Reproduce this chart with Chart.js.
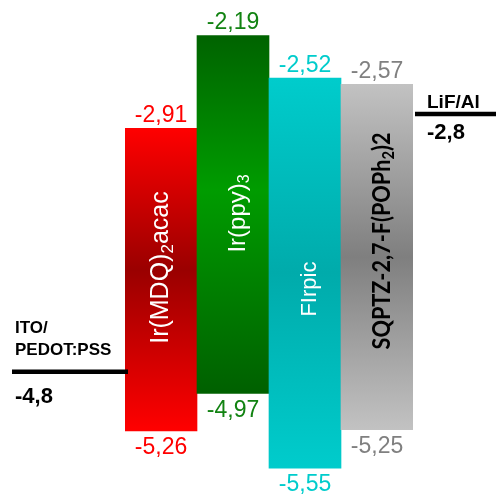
<!DOCTYPE html>
<html><head><meta charset="utf-8">
<script src="https://cdn.jsdelivr.net/npm/chart.js@4/dist/chart.umd.min.js"></script>
<style>html,body{margin:0;padding:0;background:#fff;overflow:hidden}canvas{display:block}</style>
</head><body>
<canvas id="c" width="496" height="499" style="width:496px;height:499px"></canvas>
<script>
// ---- data ----
const materials = ['Ir(MDQ)2acac', 'Ir(ppy)3', 'FIrpic', 'SQPTZ-2,7-F(POPh2)2'];
const lumo = [-2.91, -2.19, -2.52, -2.57];
const homo = [-5.26, -4.97, -5.55, -5.25];
const electrodeNames = ['ITO/PEDOT:PSS', 'LiF/Al'];
const electrodeLevels = [-4.8, -2.8];
// display markup ("_" = next char subscript)
const nameMarkup = ['Ir(MDQ)_2acac', 'Ir(ppy)_3', 'FIrpic', 'SQPTZ-2,7-F(POPh_2)2'];

// ---- styles ----
const barStyles = [
  {stops:[[0,'#ff0000'],[0.47,'#9a0000'],[1,'#ff0000']], text:'#ff0000', nameColor:'#ffffff', size:25, weight:'', family:'"Liberation Sans", Arial, sans-serif', dx:0, dy:-12},
  {stops:[[0,'#006300'],[0.43,'#009c00'],[1,'#006000']], text:'#128312', nameColor:'#ffffff', size:24, weight:'', family:'"Liberation Sans", Arial, sans-serif', dx:5, dy:-1},
  {stops:[[0,'#00cccc'],[0.5,'#00abab'],[1,'#00cccc']], text:'#00cccc', nameColor:'#ffffff', size:22, weight:'', family:'"Liberation Sans", Arial, sans-serif', dx:5, dy:16},
  {stops:[[0,'#c2c2c2'],[0.5,'#7f7f7f'],[1,'#c2c2c2']], text:'#808080', nameColor:'#000000', size:25, weight:'bold ', family:'Lato, "Open Sans", sans-serif', dx:5, dy:-16, len:217}
];

function fmt(v, d){ return v.toFixed(d).replace('.', ','); }

function parseMarkup(m){
  const segs=[];
  for(let i=0;i<m.length;i++){
    if(m[i]==='_'){ segs.push({t:m[i+1], sub:true}); i++; }
    else if(segs.length && !segs[segs.length-1].sub){ segs[segs.length-1].t+=m[i]; }
    else segs.push({t:m[i], sub:false});
  }
  return segs;
}

const gradCache = {};
function barColor(ctx){
  const chart = ctx.chart, i = ctx.dataIndex, st = barStyles[i];
  if(i===undefined || !chart.chartArea || !chart.scales.y) return st ? st.stops[0][1] : '#ccc';
  const y = chart.scales.y;
  const top = y.getPixelForValue(lumo[i]), bot = y.getPixelForValue(homo[i]);
  const g = chart.ctx.createLinearGradient(0, top, 0, bot);
  st.stops.forEach(s => g.addColorStop(s[0], s[1]));
  return g;
}

const annot = {
  id:'annot',
  afterDatasetsDraw(chart){
    const ctx = chart.ctx, ca = chart.chartArea, ys = chart.scales.y;
    const meta = chart.getDatasetMeta(0);
    ctx.save();
    meta.data.forEach((el, i) => {
      const st = barStyles[i];
      const top = Math.min(el.y, el.base), bot = Math.max(el.y, el.base);
      // values
      ctx.font = '23px "Liberation Sans", Arial, sans-serif';
      ctx.fillStyle = st.text; ctx.textAlign = 'center'; ctx.textBaseline = 'alphabetic';
      ctx.fillText(fmt(lumo[i],2), el.x, top - 6);
      ctx.fillText(fmt(homo[i],2), el.x, bot + 23);
      // rotated name
      const segs = parseMarkup(nameMarkup[i]);
      const mainF = st.weight + st.size + 'px ' + st.family;
      const subF = st.weight + Math.round(st.size*0.66) + 'px ' + st.family;
      let total = 0;
      segs.forEach(s => { ctx.font = s.sub ? subF : mainF; s.w = ctx.measureText(s.t).width; total += s.w; });
      ctx.save();
      ctx.translate(el.x + st.dx, (top + bot)/2 + st.dy);
      ctx.rotate(-Math.PI/2);
      let k = st.len ? st.len/total : 1;
      ctx.scale(k, 1);
      ctx.fillStyle = st.nameColor; ctx.textAlign = 'left'; ctx.textBaseline = 'middle';
      let x = -total/2;
      segs.forEach(s => {
        ctx.font = s.sub ? subF : mainF;
        ctx.fillText(s.t, x, s.sub ? st.size*0.28 : 0);
        x += s.w;
      });
      ctx.restore();
    });
    // electrodes
    ctx.fillStyle = '#000'; ctx.strokeStyle = '#000'; ctx.lineWidth = 4.5;
    const yI = ys.getPixelForValue(electrodeLevels[0]);
    const yL = ys.getPixelForValue(electrodeLevels[1]);
    ctx.beginPath(); ctx.moveTo(12, yI); ctx.lineTo(ca.left + 3, yI); ctx.stroke();
    ctx.beginPath(); ctx.moveTo(ca.right + 2, yL); ctx.lineTo(chart.width, yL); ctx.stroke();
    ctx.textAlign = 'left'; ctx.textBaseline = 'alphabetic';
    const itoParts = electrodeNames[0].split('/');
    ctx.font = 'bold 17px "Liberation Sans", Arial, sans-serif';
    ctx.fillText(itoParts[0] + '/', 15, yI - 39);
    ctx.fillText(itoParts[1], 15, yI - 17);
    ctx.font = 'bold 22px "Liberation Sans", Arial, sans-serif';
    ctx.fillText(fmt(electrodeLevels[0],1), 15, yI + 31);
    ctx.font = 'bold 19px "Liberation Sans", Arial, sans-serif';
    ctx.fillText(electrodeNames[1], 427, yL - 6);
    ctx.font = 'bold 22px "Liberation Sans", Arial, sans-serif';
    ctx.fillText(fmt(electrodeLevels[1],1), 427, yL + 25);
    ctx.restore();
  }
};

new Chart(document.getElementById('c'), {
  type:'bar',
  data:{
    labels: materials,
    datasets:[{
      data: materials.map((m,i) => [homo[i], lumo[i]]),
      backgroundColor: barColor,
      borderWidth: 0,
      barPercentage: 1,
      categoryPercentage: 1
    }]
  },
  options:{
    responsive:false,
    devicePixelRatio:1,
    animation:false,
    layout:{padding:{left:125, right:83, top:11, bottom:5}},
    plugins:{legend:{display:false}, tooltip:{enabled:false}},
    scales:{
      x:{display:false, offset:true},
      y:{display:false, min:-5.75, max:-2.0}
    }
  },
  plugins:[annot]
});
</script>
</body></html>
